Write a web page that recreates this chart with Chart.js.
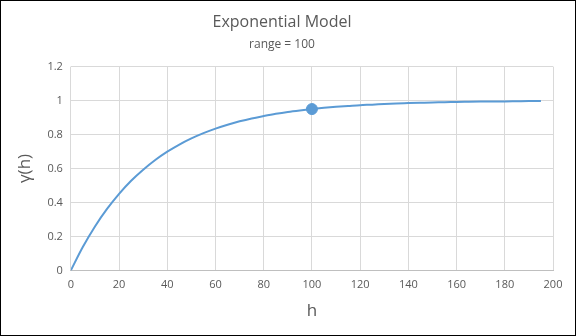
<!DOCTYPE html>
<html>
<head>
<meta charset="utf-8">
<script src="https://cdn.jsdelivr.net/npm/chart.js@4/dist/chart.umd.min.js"></script>
<style>
  html, body { margin: 0; padding: 0; background: #fff; }
  #wrap { width: 574px; height: 334px; border: 1px solid #000; }
</style>
</head>
<body>
<div id="wrap"><canvas id="chart" width="574" height="334"></canvas></div>
<script>
// Semivariogram values, lag h vs gamma(h)
const lags = [0, 5, 10, 15, 20, 25, 30, 35, 40, 45, 50, 55, 60, 65, 70, 75, 80, 85, 90, 95,
              100, 105, 110, 115, 120, 125, 130, 135, 140, 145, 150, 155, 160, 165, 170, 175, 180, 185, 190, 195];
const gammaValues = [0, 0.139, 0.259, 0.362, 0.451, 0.528, 0.593, 0.650, 0.699, 0.741,
                     0.777, 0.808, 0.835, 0.858, 0.878, 0.895, 0.909, 0.922, 0.933, 0.942,
                     0.950, 0.957, 0.963, 0.968, 0.973, 0.976, 0.980, 0.983, 0.985, 0.987,
                     0.989, 0.990, 0.992, 0.993, 0.994, 0.995, 0.995, 0.996, 0.997, 0.997];
// Marked point at the range
const rangeLag = [100];
const rangeGamma = [0.95];

const font = "'Open Sans', 'Liberation Sans', sans-serif";
const textColor = '#595959';
const blue = '#5b9bd5';

const ctx = document.getElementById('chart').getContext('2d');
new Chart(ctx, {
    type: 'scatter',
    data: {
        datasets: [
            {
                data: lags.map((h, i) => ({ x: h, y: gammaValues[i] })),
                showLine: true,
                borderColor: blue,
                borderWidth: 2,
                pointRadius: 0,
                cubicInterpolationMode: 'monotone'
            },
            {
                data: rangeLag.map((h, i) => ({ x: h, y: rangeGamma[i] })),
                backgroundColor: blue,
                borderColor: blue,
                pointRadius: 5.5
            }
        ]
    },
    options: {
        responsive: false,
        animation: false,
        layout: { padding: { left: 10, right: 22, top: 4, bottom: 10 } },
        plugins: {
            legend: { display: false },
            tooltip: { enabled: false },
            title: {
                display: true,
                text: 'Exponential Model',
                color: textColor,
                font: { family: font, size: 16, weight: 'normal' },
                padding: { top: 8, bottom: 2 }
            },
            subtitle: {
                display: true,
                text: 'range = 100',
                color: textColor,
                font: { family: font, size: 12 },
                padding: { top: 3, bottom: 15 }
            }
        },
        scales: {
            x: {
                type: 'linear',
                min: 0,
                max: 200,
                ticks: {
                    stepSize: 20,
                    color: textColor,
                    font: { family: font, size: 11 },
                    padding: 8,
                    maxRotation: 0
                },
                grid: { color: '#d9d9d9', drawTicks: false },
                border: { color: '#bfbfbf' },
                title: {
                    display: true,
                    text: 'h',
                    color: textColor,
                    font: { family: font, size: 17 },
                    padding: { top: 1 }
                }
            },
            y: {
                min: 0,
                max: 1.2,
                ticks: {
                    stepSize: 0.2,
                    color: textColor,
                    font: { family: font, size: 11 },
                    padding: 8,
                    callback: v => String(Math.round(v * 10) / 10)
                },
                grid: { color: '#d9d9d9', drawTicks: false },
                border: { display: false },
                title: {
                    display: true,
                    text: 'γ(h)',
                    color: textColor,
                    font: { family: font, size: 17 },
                    padding: { bottom: 4 }
                }
            }
        }
    }
});
</script>
</body>
</html>
